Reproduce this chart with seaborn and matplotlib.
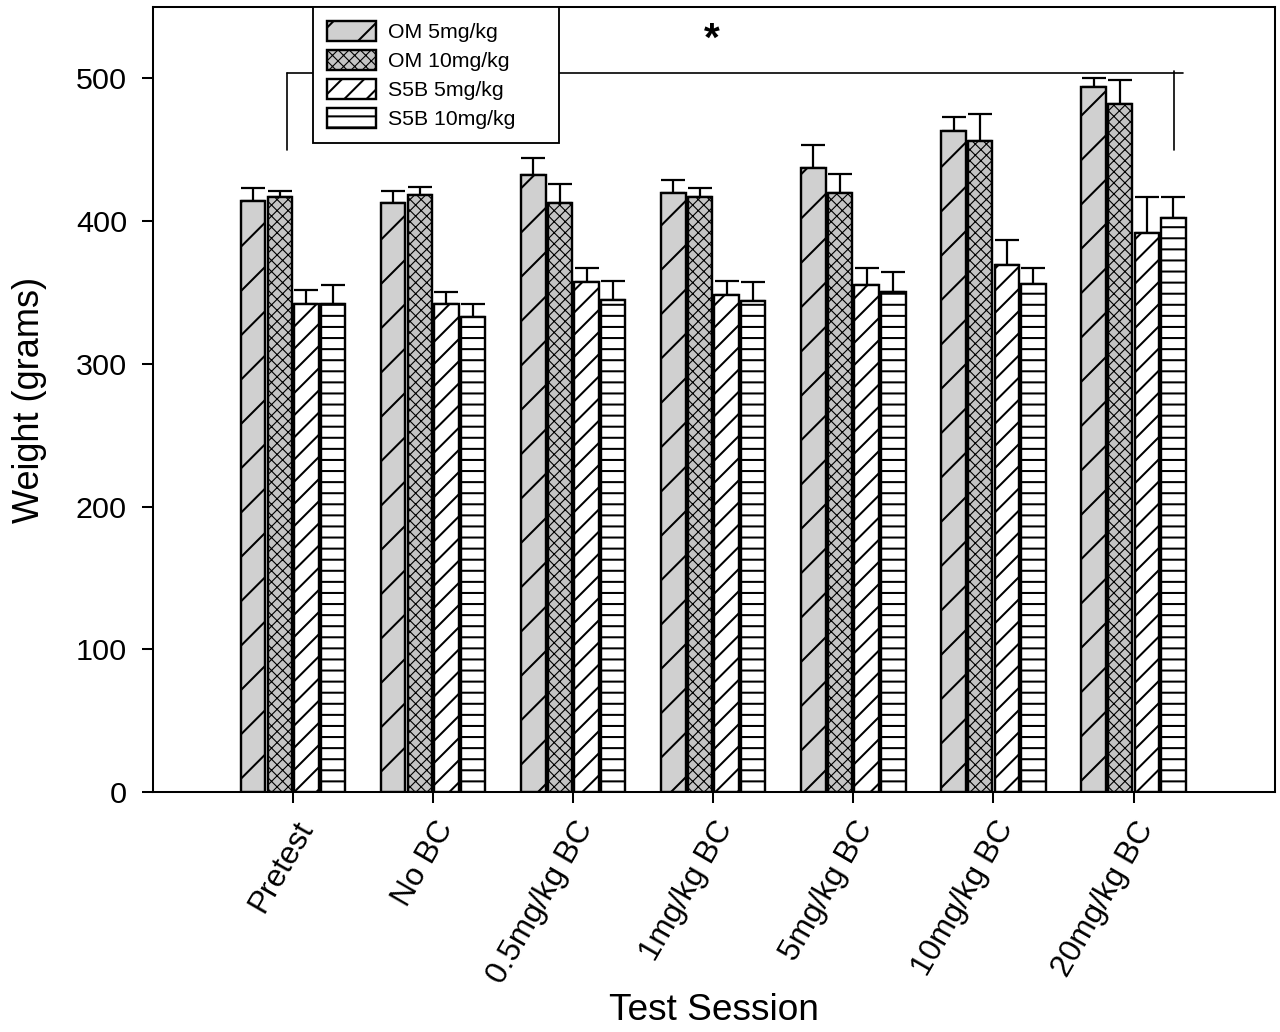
import numpy as np
import pandas as pd
import matplotlib
matplotlib.use("Agg")
import matplotlib.pyplot as plt
import seaborn as sns
from matplotlib.patches import Patch
from matplotlib.container import BarContainer

# ---- data ----
sessions = ["Pretest", "No BC", "0.5mg/kg BC", "1mg/kg BC", "5mg/kg BC", "10mg/kg BC", "20mg/kg BC"]
groups = ["OM 5mg/kg", "OM 10mg/kg", "S5B 5mg/kg", "S5B 10mg/kg"]
om5 = [414, 413, 432, 420, 437, 463, 494]
om5_err = [9, 8, 12, 9, 16, 10, 6]
om10 = [417, 418, 413, 417, 420, 456, 482]
om10_err = [4, 6, 13, 6, 13, 19, 17]
s5b5 = [342, 342, 357, 348, 355, 369, 392]
s5b5_err = [10, 8, 10, 10, 12, 18, 25]
s5b10 = [342, 333, 345, 344, 350, 356, 402]
s5b10_err = [13, 9, 13, 13, 14, 11, 15]
yticks = [0, 100, 200, 300, 400, 500]

means = [om5, om10, s5b5, s5b10]
errs = [om5_err, om10_err, s5b5_err, s5b10_err]

rows = []
for g, m, e in zip(groups, means, errs):
    for s, v, ee in zip(sessions, m, e):
        rows.append({"session": s, "group": g, "weight": v, "err": ee})
df = pd.DataFrame(rows)

sns.set_style("white")
plt.rcParams["font.family"] = ["Liberation Sans", "DejaVu Sans"]
plt.rcParams["hatch.linewidth"] = 1.1
plt.rcParams["axes.linewidth"] = 1.1
for k in ["text.color", "axes.labelcolor", "xtick.color", "ytick.color", "axes.edgecolor"]:
    plt.rcParams[k] = "black"

DPI = 1280 / 9.6
fig = plt.figure(figsize=(9.6, 1032 / DPI), dpi=DPI)
ax = fig.add_axes([153 / 1280, 1 - 792 / 1032, (1275 - 153) / 1280, (792 - 7) / 1032])

faces = ["#d0d0d0", "#c4c4c4", "white", "white"]
hatches = ["/", "xxxx", "//", "--"]
hatch_lw = [1.1, 0.6, 1.1, 1.1]

sns.barplot(data=df, x="session", y="weight", hue="group", hue_order=groups,
            order=sessions, palette=faces, edgecolor="black", linewidth=1.3,
            width=0.76, gap=0.08, errorbar=None, legend=False, ax=ax, zorder=3)

bar_conts = [c for c in ax.containers if isinstance(c, BarContainer)]
for ci, cont in enumerate(bar_conts):
    for p, e in zip(cont.patches, errs[ci]):
        p.set_hatch(hatches[ci])
        p.set_facecolor(faces[ci])
        p.set_edgecolor("black")
        if hasattr(p, "set_hatch_linewidth"):
            p.set_hatch_linewidth(hatch_lw[ci])
        x = p.get_x() + p.get_width() / 2
        h = p.get_height()
        ax.errorbar([x], [h], yerr=[[0], [e]], fmt="none", ecolor="black",
                    elinewidth=1.2, capsize=6.6, capthick=1.2, zorder=2)

# significance bracket
ax.plot([-0.043, 6.35], [503.5, 503.5], color="black", lw=0.9, zorder=1)
ax.plot([-0.043, -0.043], [450, 503.5], color="black", lw=0.9, zorder=1)
ax.plot([6.29, 6.29], [450, 505], color="black", lw=0.9, zorder=1)
ax.text(2.986, 527, "*", ha="center", va="center", fontsize=22, fontweight="bold")

ax.set_xlim(-1.0, 7.01)
ax.set_ylim(0, 550)
ax.set_yticks(yticks)
ax.set_yticklabels([str(t) for t in yticks], fontsize=16.5)
ax.set_xticks(range(len(sessions)))
ax.set_xticklabels(sessions, fontsize=17, rotation=60, ha="right", va="top",
                   rotation_mode="anchor")
ax.tick_params(axis="both", direction="out", length=6, width=1.1, color="black")
ax.tick_params(axis="y", pad=8, left=True)
ax.tick_params(axis="x", pad=7, bottom=True)
for s in ax.spines.values():
    s.set_visible(True)
    s.set_color("black")
    s.set_linewidth(1.1)

ax.set_ylabel("Weight (grams)", fontsize=19.5)
ax.yaxis.set_label_coords((47 - 153) / 1122, 0.5)
ax.set_xlabel("Test Session", fontsize=20)
ax.xaxis.set_label_coords(0.5, (792 - 993) / 785)

handles = [Patch(facecolor=faces[i], edgecolor="black", hatch=hatches[i], linewidth=1.3)
           for i in range(4)]
leg = ax.legend(handles, groups, loc="upper left",
                bbox_to_anchor=(0.1426, 0.0, (559 - 313) / 1122, 1.0), mode="expand",
                borderaxespad=0, fontsize=11.5, frameon=True, fancybox=False,
                framealpha=1, edgecolor="black", handlelength=2.3, handleheight=1.08,
                labelspacing=0.36, handletextpad=0.55, borderpad=0.65)
leg.get_frame().set_linewidth(1.0)
leg.set_zorder(5)
for i, lh in enumerate(leg.legend_handles):
    if hasattr(lh, "set_hatch_linewidth"):
        lh.set_hatch_linewidth(hatch_lw[i])

fig.savefig("out.png", dpi=DPI)
